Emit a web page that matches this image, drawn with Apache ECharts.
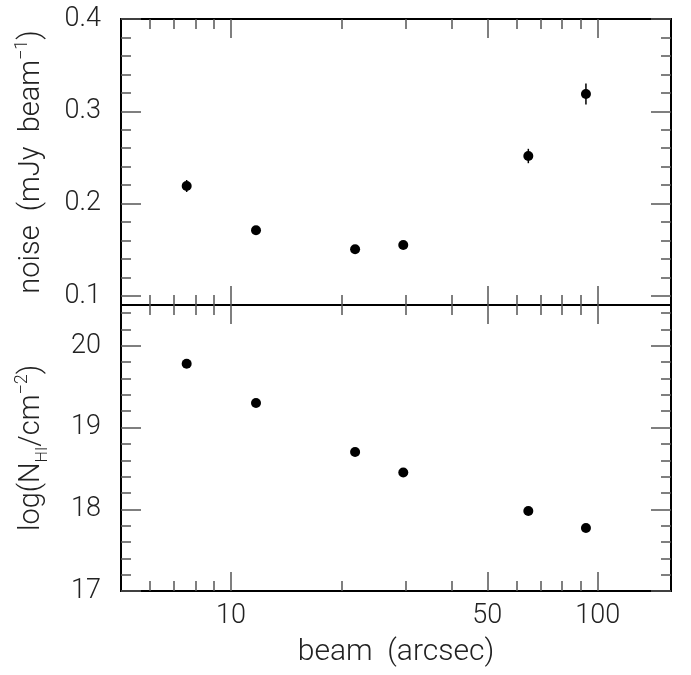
<!DOCTYPE html>
<html>
<head>
<meta charset="utf-8">
<script src="https://cdn.jsdelivr.net/npm/echarts@6/dist/echarts.min.js"></script>
<style>html,body{margin:0;padding:0;background:#fff}#c{width:691px;height:675px}</style>
</head>
<body>
<div id="c"></div>
<script>
// ---- data ----
const beam = [7.57, 11.7, 21.8, 29.5, 64.7, 92.9];
const noise = [0.219, 0.171, 0.1505, 0.155, 0.2515, 0.3187];
const noiseErr = [0.0065, 0.003, 0.003, 0.003, 0.0078, 0.0114];
const logNHI = [19.78, 19.30, 18.70, 18.45, 17.98, 17.77];

// ---- ticks ----
const xMajorTicks = [10, 50, 100];
const xMinorTicks = [6, 7, 8, 9, 20, 30, 40, 60, 70, 80, 90];
const xTickLabels = [10, 50, 100];
const noiseMajorTicks = [0.1, 0.2, 0.3, 0.4];
const noiseMinorTicks = [0.12, 0.14, 0.16, 0.18, 0.22, 0.24, 0.26, 0.28, 0.32, 0.34, 0.36, 0.38];
const nhiMajorTicks = [17, 18, 19, 20];
const nhiMinorTicks = [17.2, 17.4, 17.6, 17.8, 18.2, 18.4, 18.6, 18.8, 19.2, 19.4, 19.6, 19.8, 20.2, 20.4];

const FONT = 'Roboto';
const labelStyle = {color: '#222', fontFamily: FONT, fontWeight: 300, fontSize: 27};
const X_MIN = Math.pow(10, 0.7), X_MAX = Math.pow(10, 2.2);

function xAx(grid, pos, ticks, len, labels, extra) {
  return Object.assign({
    type: 'log', logBase: 10, gridIndex: grid, position: pos,
    min: X_MIN, max: X_MAX,
    axisLine: {show: true, onZero: false, lineStyle: {color: '#000', width: 2}},
    axisTick: {show: true, inside: true, length: len, customValues: ticks, lineStyle: {color: '#555', width: 1.5}},
    axisLabel: labels ? Object.assign({show: true, customValues: labels, margin: 12, formatter: v => String(Math.round(v))}, labelStyle) : {show: false},
    splitLine: {show: false}, minorTick: {show: false}, minorSplitLine: {show: false}
  }, extra || {});
}
function yAx(grid, pos, min, max, ticks, len, labels, fmt, extra) {
  return Object.assign({
    type: 'value', gridIndex: grid, position: pos, min: min, max: max,
    axisLine: {show: true, onZero: false, lineStyle: {color: '#000', width: 2}},
    axisTick: {show: true, inside: true, length: len, customValues: ticks, lineStyle: {color: '#555', width: 1.5}},
    axisLabel: labels ? Object.assign({show: true, customValues: labels, margin: 20, formatter: fmt}, labelStyle) : {show: false},
    splitLine: {show: false}
  }, extra || {});
}

const nameStyle = {
  color: '#222', fontFamily: FONT, fontWeight: 300, fontSize: 29, lineHeight: 38,
  rich: {
    sup: {fontFamily: FONT, fontWeight: 300, fontSize: 18, verticalAlign: 'top', lineHeight: 38, color: '#222'},
    sub: {fontFamily: FONT, fontWeight: 300, fontSize: 16, verticalAlign: 'bottom', lineHeight: 38, color: '#222'}
  }
};

const option = {
  animation: false,
  backgroundColor: '#fff',
  grid: [
    {left: 121, top: 19, width: 550, height: 286},
    {left: 121, top: 305, width: 550, height: 286}
  ],
  xAxis: [
    xAx(0, 'bottom', xMajorTicks, 19, null),
    xAx(0, 'bottom', xMinorTicks, 10, null),
    xAx(0, 'top', xMajorTicks, 19, null),
    xAx(0, 'top', xMinorTicks, 10, null),
    xAx(1, 'bottom', xMajorTicks, 19, xTickLabels, {
      name: 'beam  (arcsec)', nameLocation: 'middle', nameGap: 46,
      nameTextStyle: {color: '#222', fontFamily: FONT, fontWeight: 300, fontSize: 30}
    }),
    xAx(1, 'bottom', xMinorTicks, 10, null),
    xAx(1, 'top', xMajorTicks, 19, null),
    xAx(1, 'top', xMinorTicks, 10, null)
  ],
  yAxis: [
    yAx(0, 'left', 0.09, 0.4, noiseMajorTicks, 20, noiseMajorTicks, v => v.toFixed(1), {
      name: 'noise  (mJy  beam{sup|−1})', nameLocation: 'middle', nameGap: 70, nameTextStyle: nameStyle
    }),
    yAx(0, 'left', 0.09, 0.4, noiseMinorTicks, 10, null),
    yAx(0, 'right', 0.09, 0.4, noiseMajorTicks, 20, null),
    yAx(0, 'right', 0.09, 0.4, noiseMinorTicks, 10, null),
    yAx(1, 'left', 17, 20.5, nhiMajorTicks, 20, nhiMajorTicks, v => String(Math.round(v)), {
      name: 'log(N{sub|HI}/cm{sup|−2})', nameLocation: 'middle', nameGap: 70, nameTextStyle: nameStyle
    }),
    yAx(1, 'left', 17, 20.5, nhiMinorTicks, 10, null),
    yAx(1, 'right', 17, 20.5, nhiMajorTicks, 20, null),
    yAx(1, 'right', 17, 20.5, nhiMinorTicks, 10, null)
  ],
  series: [
    {
      type: 'custom', xAxisIndex: 0, yAxisIndex: 0, silent: true,
      data: beam.map((b, i) => [b, noise[i] - noiseErr[i], noise[i] + noiseErr[i]]),
      renderItem: function (params, api) {
        const lo = api.coord([api.value(0), api.value(1)]);
        const hi = api.coord([api.value(0), api.value(2)]);
        return {type: 'line', shape: {x1: lo[0], y1: lo[1], x2: hi[0], y2: hi[1]}, style: {stroke: '#000', lineWidth: 1.5}};
      }
    },
    {
      type: 'scatter', xAxisIndex: 0, yAxisIndex: 0, symbol: 'circle', symbolSize: 10,
      itemStyle: {color: '#000', opacity: 1}, silent: true,
      data: beam.map((b, i) => [b, noise[i]])
    },
    {
      type: 'scatter', xAxisIndex: 4, yAxisIndex: 4, symbol: 'circle', symbolSize: 10,
      itemStyle: {color: '#000', opacity: 1}, silent: true,
      data: beam.map((b, i) => [b, logNHI[i]])
    }
  ]
};

const chart = echarts.init(document.getElementById('c'), null, {renderer: 'canvas'});
chart.setOption(option);
</script>
</body>
</html>
